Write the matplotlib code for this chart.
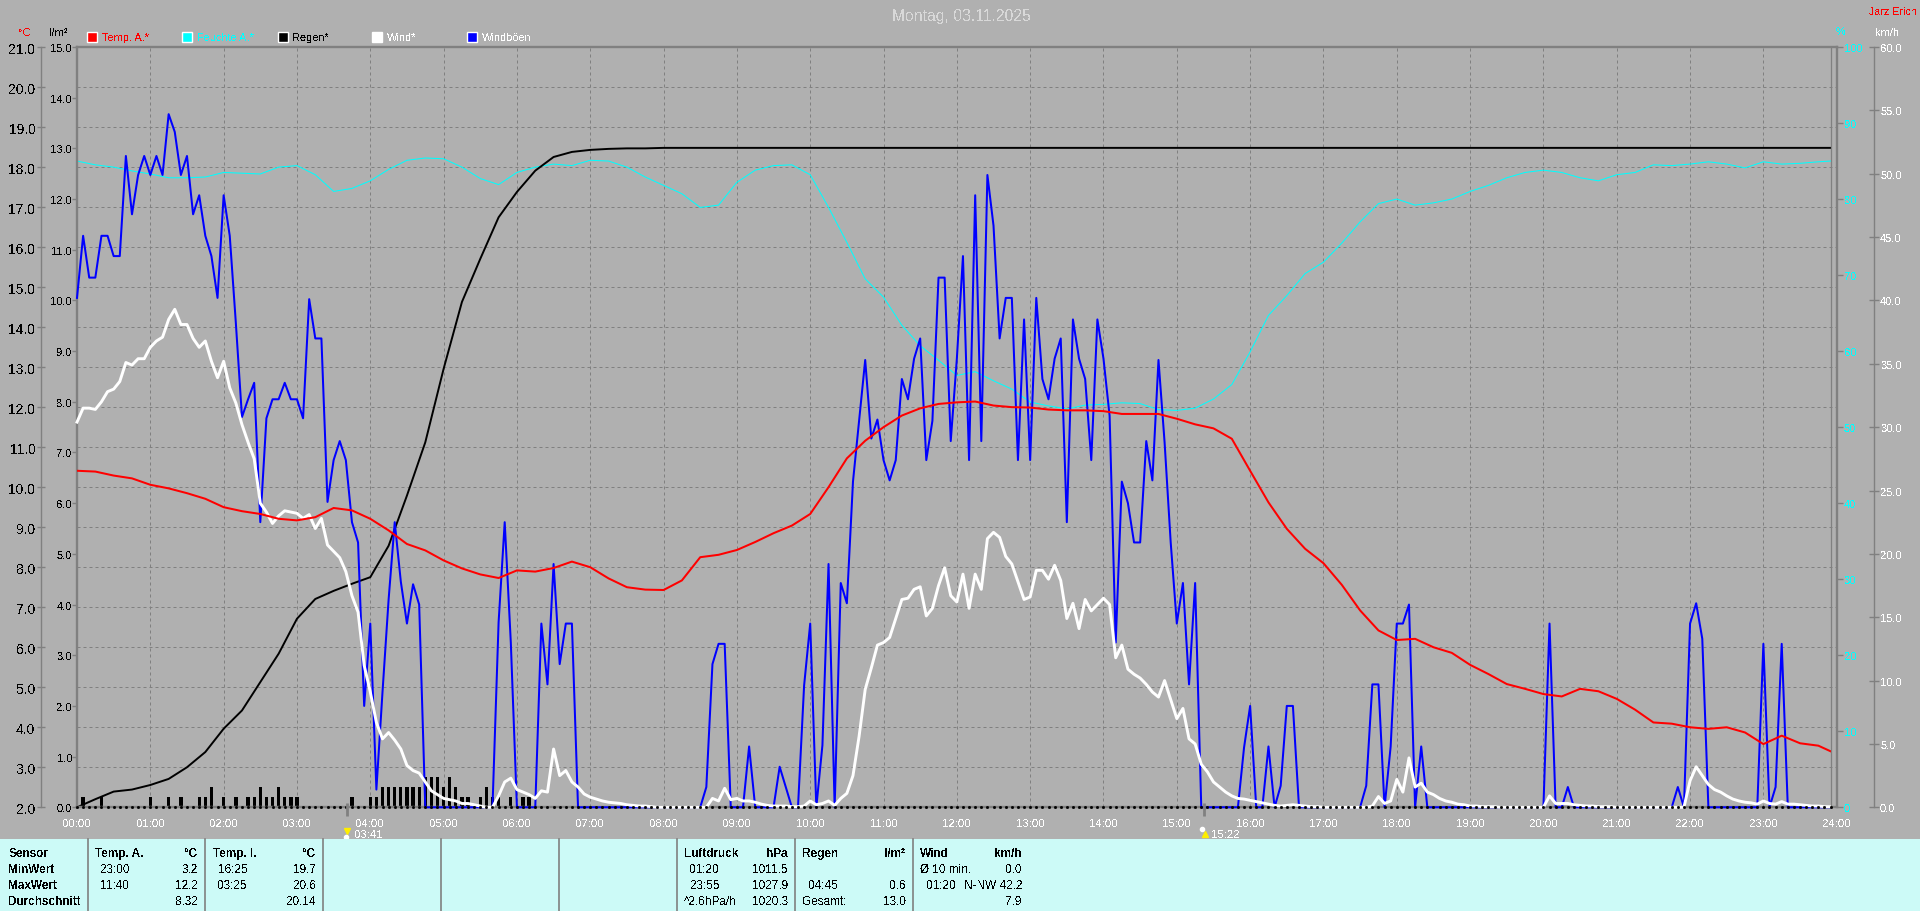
import numpy as np
import matplotlib
matplotlib.use('Agg')
import matplotlib.pyplot as plt
from matplotlib.lines import Line2D
from matplotlib.patches import Rectangle

plt.rcParams['font.family'] = ['Liberation Sans', 'DejaVu Sans']
plt.rcParams['text.antialiased'] = False

# Data, 5 minute samples
gust = [40.2,45.1,41.8,41.8,45.1,45.1,43.5,43.5,51.4,46.8,49.9,51.4,
        49.9,51.4,49.9,54.7,53.3,49.9,51.4,46.8,48.3,45.1,43.5,40.2,
        48.3,45.1,38.2,30.8,32.2,33.5,22.5,30.7,32.2,32.2,33.5,32.2,
        32.2,30.7,40.1,37,37,24.1,27.4,28.9,27.4,22.5,20.9,8,
        14.5,1.4,9.1,16.4,22.5,17.8,14.5,17.6,16,0,0,0,
        0,0,0,0,0,0,0,0,0,14.6,22.5,13,
        0,0,0,0,14.5,9.7,19.2,11.3,14.5,14.5,0,0,
        0,0,0,0,0,0,0,0,0,0,0,0,
        0,0,0,0,0,0,0,1.6,11.3,12.9,12.9,0,
        0,0,4.8,0,0,0,0,3.2,1.6,0,0,9.6,
        14.5,0,4.9,19.2,0,17.7,16.1,25.7,30.5,35.3,29.1,30.6,
        27.4,25.8,27.4,33.8,32.2,35.4,37,27.4,30.5,41.8,41.8,28.9,
        35.4,43.5,27.4,48.3,28.9,49.9,45.9,37,40.2,40.2,27.4,38.5,
        27.4,40.2,33.8,32.2,35.4,37,22.5,38.5,35.4,33.8,27.4,38.5,
        35.4,30.9,13,25.7,24,20.9,20.9,28.9,25.8,35.3,28.8,20.9,
        14.5,17.7,9.7,17.7,0,0,0,0,0,0,0,4.7,
        8,0,0,4.8,0,1.7,8,8,0,0,0,0,
        0,0,0,0,0,0,0,1.7,9.7,9.7,0,4.8,
        14.5,14.5,16,0,4.8,0,0,0,0,0,0,0,
        0,0,0,0,0,0,0,0,0,0,0,0,
        0,14.5,0,0,1.6,0,0,0,0,0,0,0,
        0,0,0,0,0,0,0,0,0,0,1.6,0,
        14.5,16.1,13.3,0,0,0,0,0,0,0,0,0,
        12.9,0,1.6,12.9,0,0,0,0,0,0,0,0]
wind = [30.4,31.5,31.5,31.4,32,32.8,33,33.6,35.1,34.9,35.4,35.4,
        36.3,36.8,37.1,38.5,39.3,38.1,38.1,37,36.3,36.8,35.2,33.9,
        35.2,33.1,31.9,30.2,28.8,27.5,24,23.3,22.4,23,23.4,23.3,
        23.2,22.8,23.1,22,22.8,20.7,20.2,19.7,18.6,16.7,15.4,11.2,
        9.1,6.7,5.4,5.9,5.3,4.6,3.3,2.9,2.7,2,1.3,1,
        .7,.6,.5,.3,.3,.2,.1,0,0,.9,2,2.3,
        1.4,1.2,1,.7,1.3,1.2,4.6,2.5,2.9,2,1.6,1.05,
        .8,.65,.5,.4,.35,.3,.2,.15,.1,.1,.05,0,
        0,0,0,0,0,0,0,0,.7,.5,1.5,.6,
        .7,.5,.5,.4,.25,.15,.1,.1,.1,.05,.05,.1,
        .5,.2,.3,.5,.15,.7,1.1,2.5,5.6,9.3,11,12.8,
        13,13.4,14.9,16.4,16.5,17.2,17.4,15.1,15.7,17.5,18.9,16.7,
        16.2,18.4,15.7,18.4,17.2,21.2,21.7,21.3,19.8,19.2,17.8,16.4,
        16.6,18.7,18.7,18,19.1,17.9,14.9,16.1,14.1,16.4,15.5,16,
        16.5,16,11.8,12.8,10.9,10.5,10.2,9.7,9.1,8.7,10,8.5,
        7,7.8,5.4,5,3.4,2.8,2,1.6,1.2,.9,.7,.65,
        .55,.45,.35,.25,.15,.1,.15,.2,.15,.1,.05,.05,
        0,0,0,0,0,0,0,0,.1,.85,.3,.5,
        2.2,1.2,3.9,1.6,1.9,1.2,1,.7,.5,.4,.25,.2,
        .1,.1,.05,.05,.05,0,0,0,0,0,0,0,
        0,.9,.3,.3,.3,.2,.15,.1,.1,.05,.05,.05,
        0,0,0,0,0,0,0,0,0,0,0,0,
        2.1,3.2,2.5,1.8,1.4,1.2,.9,.65,.5,.4,.35,.25,
        .5,.3,.25,.45,.25,.25,.2,.15,.1,.1,.05,.05]

# Data, 15 minute samples plus the last one at 23:55
temp = [10.41,10.39,10.29,10.22,10.06,9.97,9.85,9.71,9.5,9.4,9.33,9.21,
        9.17,9.25,9.48,9.42,9.21,8.92,8.58,8.42,8.17,7.97,7.82,7.73,
        7.92,7.89,7.98,8.14,8.0,7.72,7.5,7.44,7.43,7.67,8.25,8.31,
        8.43,8.63,8.85,9.04,9.33,10,10.72,11.16,11.5,11.79,11.97,12.08,
        12.12,12.14,12.04,12,11.99,11.94,11.92,11.92,11.9,11.83,11.83,11.83,
        11.71,11.57,11.47,11.21,10.41,9.62,8.96,8.46,8.1,7.56,6.92,6.42,
        6.18,6.21,6,5.86,5.56,5.33,5.08,4.96,4.83,4.77,4.96,4.9,
        4.71,4.44,4.12,4.09,4,3.96,4,3.87,3.58,3.79,3.6,3.54,3.4]
humidity = [85,84.5,84.2,83.7,83.3,82.8,82.8,82.9,83.5,83.4,83.3,84.2,
            84.4,83.2,81,81.4,82.4,83.9,85.1,85.4,85.3,84.2,82.7,81.9,
            83.5,84.2,84.6,84.4,85.1,85,84.2,82.9,81.8,80.7,78.9,79.2,
            82.2,83.8,84.4,84.5,83.2,78.9,74.3,69.5,67.1,63.4,60.7,58.8,
            56.8,57.3,56.1,55,53.3,52.8,52.4,52.9,53,53.2,53.1,52.3,
            52.2,52.5,53.7,55.6,59.9,64.7,67.3,70.2,71.7,74.2,77,79.4,
            80,79.2,79.5,80,81,81.8,82.8,83.5,83.8,83.5,82.8,82.4,
            83.2,83.5,84.5,84.4,84.6,84.9,84.6,84.1,84.9,84.6,84.7,84.9,85]
rain_sum = [0,.16,.31,.35,.44,.56,.79,1.09,1.55,1.91,2.47,3.03,
            3.72,4.11,4.27,4.41,4.54,5.16,6.15,7.2,8.65,9.97,10.82,11.64,
            12.14,12.56,12.83,12.93,12.97,12.99,13,13,13.01,13.01,13.01,13.01,
            13.01,13.01,13.01,13.01,13.01,13.01,13.01,13.01,13.01,13.01,13.01,13.01,
            13.01,13.01,13.01,13.01,13.01,13.01,13.01,13.01,13.01,13.01,13.01,13.01,
            13.01,13.01,13.01,13.01,13.01,13.01,13.01,13.01,13.01,13.01,13.01,13.01,
            13.01,13.01,13.01,13.01,13.01,13.01,13.01,13.01,13.01,13.01,13.01,13.01,
            13.01,13.01,13.01,13.01,13.01,13.01,13.01,13.01,13.01,13.01,13.01,13.01,13.01]

# Rain bars: sample number and l/m2
rain_idx = [1,4,12,15,17,20,21,22,24,26,28,29,30,31,32,33,34,35,36,45,48,49,50,51,52,53,54,55,56,
            57,58,59,60,61,62,63,64,66,67,68,69,71,73,74]
rain_val = [.2,.2,.2,.2,.2,.2,.2,.4,.2,.2,.2,.2,.4,.2,.2,.4,.2,.2,.2,.2,.2,.2,.4,.4,.4,.4,.4,.4,.4,
            .6,.6,.6,.4,.6,.4,.2,.2,.2,.4,.2,.2,.2,.2,.2]

hour_labels = ['%02d:00' % h for h in range(25)]
sun_times = [3 + 41/60, 15 + 22/60]
sun_labels = ['03:41', '15:22']

t5 = np.arange(288) / 12
t15 = np.append(np.arange(96) * 0.25, 287 / 12)

BG = '#b0b0b0'
GRAY = '#808080'
TICK_SIZE = 8

W, H = 1920, 912
fig = plt.figure(figsize=(W/100, H/100), dpi=100, facecolor=BG)
rect = [77/W, 1 - 808.3/H, (1836.7-77)/W, 760.3/H]

# base axes holds temperature scale and grid
ax = fig.add_axes(rect, facecolor=BG)
ax.set_xlim(0, 24)
ax.set_ylim(2, 21)
ax.set_yticks(np.arange(2, 22))
ax.set_yticklabels(['%.1f' % v for v in np.arange(2, 22)], color='#ff0000', fontsize=TICK_SIZE)
ax.set_xticks(np.arange(25))
ax.set_xticklabels(hour_labels, color='white', fontsize=8.2)
ax.tick_params(axis='x', length=0, pad=7.5)
ax.tick_params(axis='y', direction='inout', length=6, width=1, color=GRAY, pad=1)
ax.grid(True, color=GRAY, linestyle=(0, (3, 3)), linewidth=0.72)
ax.set_axisbelow(True)
for s in ['top', 'right', 'bottom']:
    ax.spines[s].set_visible(False)
ax.spines['left'].set_position(('outward', 26))
ax.spines['left'].set_color(GRAY)
ax.spines['left'].set_linewidth(1)

def overlay(ylim):
    a = fig.add_axes(rect, sharex=ax, facecolor='none')
    a.set_ylim(*ylim)
    a.xaxis.set_visible(False)
    for s in a.spines.values():
        s.set_visible(False)
    return a

# humidity
ax_h = overlay((0, 100))
ax_h.yaxis.tick_right()
ax_h.set_yticks(np.arange(0, 101, 10))
ax_h.set_yticklabels(['%d' % v for v in np.arange(0, 101, 10)], color='#00ffff', fontsize=TICK_SIZE)
ax_h.tick_params(axis='y', length=4.3, width=1, color=GRAY, pad=1)
ax_h.plot(t15, humidity, color='#00ffff', linewidth=0.75)

# rain
ax_r = overlay((0, 15))
ax_r.set_yticks(np.arange(0, 16))
ax_r.set_yticklabels(['%.1f' % v for v in np.arange(0, 16)], color='black', fontsize=TICK_SIZE)
ax_r.tick_params(axis='y', length=3.6, width=1, color=GRAY, pad=0)
ax_r.bar(t5[rain_idx], rain_val, width=0.045, color='black', antialiased=False)
ax_r.plot(t15, rain_sum, color='black', linewidth=1.4, clip_on=False)
for s in ax_r.spines.values():
    s.set_visible(True)
    s.set_color(GRAY)
    s.set_linewidth(1.7)

# wind and gusts
ax_w = overlay((0, 60))
ax_w.yaxis.tick_right()
ax_w.spines['right'].set_visible(True)
ax_w.spines['right'].set_position(('outward', 27))
ax_w.spines['right'].set_color(GRAY)
ax_w.spines['right'].set_linewidth(1)
ax_w.set_yticks(np.arange(0, 61, 5))
ax_w.set_yticklabels(['%.1f' % v for v in np.arange(0, 61, 5)], color='white', fontsize=TICK_SIZE)
ax_w.tick_params(axis='y', direction='inout', length=6.5, width=1, color=GRAY, pad=1)
ax_w.plot(t5, gust, color='#0000ff', linewidth=1.45, clip_on=False)
ax_w.plot(t5, wind, color='white', linewidth=2.1, clip_on=False)

# temperature on top
ax_t = overlay((2, 21))
ax_t.yaxis.set_visible(False)
ax_t.plot(t15, temp, color='#ff0000', linewidth=1.45)
# end of data
ax_t.axvline(287/12, color=GRAY, linewidth=0.9)
# zero rain dots
ax_t.plot(t5, np.full(288, 2.0), linestyle='none', marker='s', markersize=1, color='black', clip_on=False)

# sunrise and sunset marks
tr = ax_t.get_xaxis_transform()
for t, lab, arrow_y, dot_y, mk, dx in zip(sun_times, sun_labels, [-0.0316, -0.0355], [-0.0385, -0.029], ['v', '^'], [0, 1.5]):
    ax_t.plot([t, t], [0.006, -0.012], transform=tr, color=GRAY, linewidth=2, clip_on=False, solid_capstyle='butt')
    ax_t.plot([t + dx/73.3], [arrow_y], transform=tr, marker=mk, markersize=5, color='#ffee00', clip_on=False)
    ax_t.plot([t - 1.5/73.3], [dot_y], transform=tr, marker='o', markersize=3, color='white', clip_on=False)
    ax_t.text(t + 7/73.3, -0.0355, lab, transform=tr, color='white', fontsize=8.2, va='center', ha='left')

def label(x, y, s, color='black', ha='left', size=8.5, weight='normal'):
    fig.text(x/W, 1 - y/H, s, color=color, ha=ha, va='center', fontsize=size, fontweight=weight)

# header
label(961, 16, 'Montag, 03.11.2025', color='#d8d8d8', ha='center', size=11.3)
label(1893, 12, 'Jarz Erich', color='#ff0000', ha='center', size=7.7)
label(25, 33, '°C', color='#ff0000', ha='center', size=TICK_SIZE)
label(58, 33, 'l/m²', color='black', ha='center', size=TICK_SIZE)
label(1841, 32, '%', color='#00ffff', ha='center', size=TICK_SIZE)
label(1887, 33, 'km/h', color='white', ha='center', size=TICK_SIZE)

# legend
legend_x = [87, 182.4, 277.5, 372, 467]
legend_names = ['Temp. A.*', 'Feuchte A.*', 'Regen*', 'Wind*', 'Windböen']
legend_box = ['#ff0000', '#00ffff', 'black', 'white', '#0000ff']
legend_text = ['#ff0000', '#00ffff', 'black', 'white', 'white']
for x, name, cb, ct in zip(legend_x, legend_names, legend_box, legend_text):
    fig.add_artist(Rectangle((x/W, 1 - 43/H), 10/W, 10/H, transform=fig.transFigure,
                             facecolor=cb, edgecolor='white', linewidth=1))
    label(x + 15, 38, name, color=ct, size=7.9)

# bottom table
fig.add_artist(Rectangle((0, 0), 1, (H - 839.5)/H, transform=fig.transFigure, facecolor='#ccfaf7', edgecolor='none'))
for x in [88, 205, 323, 441, 559, 677, 795, 913]:
    fig.add_artist(Line2D([x/W, x/W], [0, (H - 839.5)/H], color=GRAY, linewidth=1.2))

rows = [854, 870, 886, 902]
for y, s in zip(rows, ['Sensor', 'MinWert', 'MaxWert', 'Durchschnitt']):
    label(8.6, y, s, weight='bold')

headers = [(95, 198, 'Temp. A.', '°C'), (213, 316, 'Temp. I.', '°C'), (684, 788, 'Luftdruck', 'hPa'),
           (802.4, 905.5, 'Regen', 'l/m²'), (920.4, 1021.5, 'Wind', 'km/h')]
for xl, xr, a, b in headers:
    label(xl, rows[0], a, weight='bold')
    label(xr, rows[0], b, ha='right', weight='bold')

cells = [(100, 198, 1, '23:00', '3.2'), (100, 198, 2, '11:40', '12.2'), (100, 198, 3, '', '8.32'),
         (218, 316, 1, '16:25', '19.7'), (218, 316, 2, '03:25', '20.6'), (218, 316, 3, '', '20.14'),
         (690, 788, 1, '01:20', '1011.5'), (690, 788, 2, '23:55', '1027.9'), (684, 788, 3, '^2.6hPa/h', '1020.3'),
         (808.6, 906, 2, '04:45', '0.6'), (802.4, 906, 3, 'Gesamt:', '13.0'),
         (920.4, 1022, 1, 'Ø 10 min.', '0.0'), (926.5, 1022, 2, '01:20', 'N-NW 42.2'), (926.5, 1022, 3, '', '7.9')]
for xl, xr, r, a, b in cells:
    label(xl, rows[r], a)
    label(xr, rows[r], b, ha='right')

fig.savefig('out.png', dpi=100, facecolor=BG)
